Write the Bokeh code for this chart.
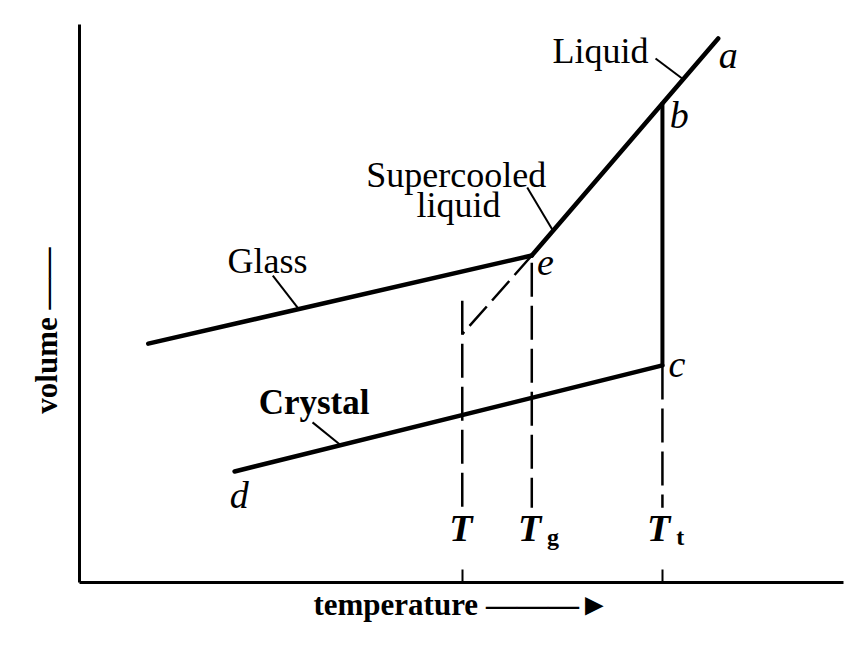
from bokeh.plotting import figure
from bokeh.models import ColumnDataSource, FixedTicker, Range1d
from bokeh.core.properties import value
from bokeh.embed import file_html
from bokeh.resources import INLINE

# ---- data (arbitrary units: temperature 0-100, volume 0-100) ----
T_low = 50.1      # T
T_g = 59.2        # glass transition
T_t = 76.3        # melting point

liquid_T = [83.6, 59.2]          # a -> e
liquid_V = [97.5, 58.6]
glass_T = [9.0, 59.2]            # glass branch -> e
glass_V = [42.8, 58.6]
crystal_T = [20.3, 76.3]         # d -> c
crystal_V = [19.9, 38.9]
melt_T = [76.3, 76.3]            # b -> c
melt_V = [86.0, 38.9]
ext_T = [59.2, 50.1]             # supercooled extrapolation (dashed)
ext_V = [58.6, 44.5]

drop_T = [T_low, T_g, T_t]       # dashed verticals
drop_top = [50.5, 57.3, 38.9]
drop_bottom = [13.4, 13.4, 13.4]

# leader lines (label end -> curve end)
lead_x0 = [75.4, 58.6, 25.3, 30.5]
lead_y0 = [93.9, 70.8, 55.0, 28.7]
lead_x1 = [79.1, 62.0, 28.7, 34.2]
lead_y1 = [90.1, 63.0, 49.0, 24.6]

names = ["Liquid", "Supercooled", "liquid", "Glass"]
names_x = [68.2, 49.3, 49.6, 24.6]
names_y = [95.3, 73.0, 67.6, 57.7]

bold_names = ["Crystal"]
bold_x = [30.7]
bold_y = [32.3]

points = ["a", "b", "c", "d", "e"]
points_x = [84.9, 78.5, 78.2, 20.9, 61.0]
points_y = [94.6, 83.7, 39.1, 15.6, 57.3]

temp_labels = ["T", "T", "T"]
temp_x = [49.9, 58.9, 75.8]
temp_y = [9.7, 9.7, 9.7]
sub_labels = ["g", "t"]
sub_x = [61.2, 78.1]
sub_y = [8.2, 8.2]

p = figure(width=856, height=640, output_backend="svg", toolbar_location=None,
           x_range=Range1d(0, 100), y_range=Range1d(0, 100),
           min_border_left=79, min_border_right=13, min_border_top=24, min_border_bottom=58)
p.outline_line_color = None
p.xgrid.visible = False
p.ygrid.visible = False
p.background_fill_color = "white"
p.border_fill_color = "white"

# axes
for ax in (p.xaxis, p.yaxis):
    ax.axis_line_width = 3
    ax.axis_line_color = "black"
    ax.minor_tick_line_color = None
    ax.axis_label_text_font = "Liberation Serif"
    ax.axis_label_text_font_style = "bold"
    ax.axis_label_text_font_size = "31px"
    ax.axis_label_text_color = "black"
p.xaxis.ticker = FixedTicker(ticks=[T_low, T_t])
p.xaxis.major_label_overrides = {T_low: "", T_t: ""}
p.xaxis.major_label_standoff = 0
p.xaxis.major_label_text_font_size = "2px"
p.xaxis.major_tick_in = 13
p.xaxis.major_tick_out = 0
p.xaxis.major_tick_line_width = 2
p.xaxis.axis_label = "temperature \u2014\u2014\u2014\u25BA"
p.xaxis.axis_label_standoff = 4
p.yaxis.ticker = FixedTicker(ticks=[])
p.yaxis.major_tick_line_color = None
p.yaxis.axis_label = "volume \u2014\u2014" + "\u00A0" * 7
p.yaxis.axis_label_standoff = 16

# curves
lw = 4.5
p.line(liquid_T, liquid_V, line_width=lw, color="black", line_cap="round")
p.line(glass_T, glass_V, line_width=lw, color="black", line_cap="round")
p.line(crystal_T, crystal_V, line_width=lw, color="black", line_cap="round")
p.line(melt_T, melt_V, line_width=4, color="black")
p.line(ext_T, ext_V, line_width=2.5, color="black", line_dash="26 8")
p.segment(x0=drop_T, y0=drop_top, x1=drop_T, y1=drop_bottom,
          line_width=2.5, color="black", line_dash="34 9")
p.segment(x0=lead_x0, y0=lead_y0, x1=lead_x1, y1=lead_y1, line_width=2, color="black")

# texts
font = value("Liberation Serif")
p.text(x=names_x, y=names_y, text=names, text_font=font, text_font_size="36px",
       text_align="center", text_baseline="middle", text_color="black")
p.text(x=bold_x, y=bold_y, text=bold_names, text_font=font, text_font_size="35px",
       text_font_style="bold", text_align="center", text_baseline="middle", text_color="black")
p.text(x=points_x, y=points_y, text=points, text_font=font, text_font_size="38px",
       text_font_style="italic", text_align="center", text_baseline="middle", text_color="black")
p.text(x=temp_x, y=temp_y, text=temp_labels, text_font=font, text_font_size="38px",
       text_font_style="bold italic", text_align="center", text_baseline="middle", text_color="black")
p.text(x=sub_x, y=sub_y, text=sub_labels, text_font=font, text_font_size="24px",
       text_font_style="bold", text_align="left", text_baseline="middle", text_color="black")

open("out.html", "w").write(file_html(p, INLINE))
